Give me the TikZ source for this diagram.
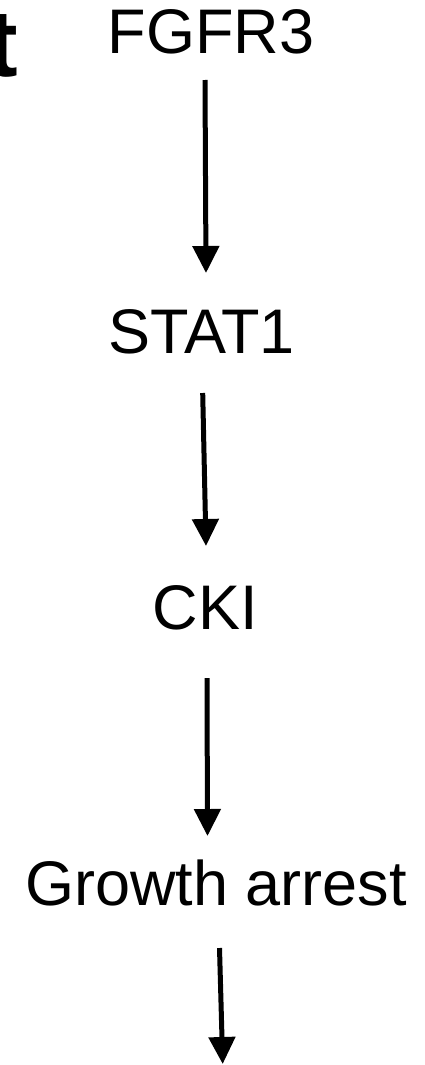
\documentclass[tikz,border=0pt]{standalone}
\usepackage{fontspec}
\setmainfont{Liberation Sans}
\usetikzlibrary{arrows.meta}
\begin{document}
\begin{tikzpicture}[x=1pt,y=-1pt,
  lbl/.style={anchor=base,inner sep=0pt,font=\fontsize{63}{70}\selectfont},
  flow/.style={line width=5pt,-{Triangle[width=26pt,length=27pt]}}]
\useasboundingbox (0,0) rectangle (425,1065);
\begin{scope}
\clip (0,0) rectangle (425,1065);
\node[anchor=base east,inner sep=0pt,font=\fontsize{95}{100}\selectfont\bfseries] (tpart) at (18,77) {t};
\end{scope}
\node[lbl] (fgfr3) at (211,53) {FGFR3};
\node[lbl] (stat1) at (201.5,353) {STAT1};
\node[lbl] (cki) at (205.5,629) {CKI};
\node[lbl] (growth) at (216,905) {Growth arrest};
\coordinate (a1s) at (205,80);
\coordinate (a1e) at (206,273);
\coordinate (a2s) at (202.7,393);
\coordinate (a2e) at (206,546);
\coordinate (a3s) at (207,678);
\coordinate (a3e) at (207.5,836);
\coordinate (a4s) at (219.5,948);
\coordinate (a4e) at (222.7,1064);
\draw[flow] (a1s) -- (a1e);
\draw[flow] (a2s) -- (a2e);
\draw[flow] (a3s) -- (a3e);
\draw[flow] (a4s) -- (a4e);
\end{tikzpicture}
\end{document}
